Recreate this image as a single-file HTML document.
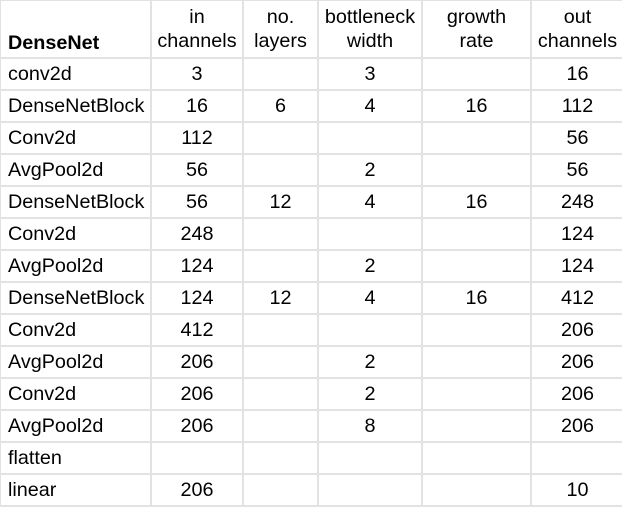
<!DOCTYPE html>
<html><head><meta charset="utf-8"><style>
body{margin:0;background:#fff;}
table{border-collapse:collapse;position:absolute;left:-1px;top:-1px;width:624px;font-family:"Liberation Sans",Arial,sans-serif;font-size:19.8px;color:#000;table-layout:fixed;}
td{border:2px solid #e2e2e2;padding:0;height:30px;text-align:center;white-space:nowrap;overflow:visible;}
td:first-child{text-align:left;padding-left:7px;}
tr.h td{height:54px;line-height:24px;vertical-align:middle;}
tr.h td:first-child{vertical-align:bottom;font-weight:bold;padding-bottom:2px;}
</style></head><body>
<table>
<colgroup><col style="width:151px"><col style="width:92px"><col style="width:75px"><col style="width:104px"><col style="width:109px"><col style="width:93px"></colgroup>
<tr class="h"><td>DenseNet</td><td>in<br>channels</td><td>no.<br>layers</td><td>bottleneck<br>width</td><td>growth<br>rate</td><td>out<br>channels</td></tr>
<tr><td>conv2d</td><td>3</td><td></td><td>3</td><td></td><td>16</td></tr>
<tr><td>DenseNetBlock</td><td>16</td><td>6</td><td>4</td><td>16</td><td>112</td></tr>
<tr><td>Conv2d</td><td>112</td><td></td><td></td><td></td><td>56</td></tr>
<tr><td>AvgPool2d</td><td>56</td><td></td><td>2</td><td></td><td>56</td></tr>
<tr><td>DenseNetBlock</td><td>56</td><td>12</td><td>4</td><td>16</td><td>248</td></tr>
<tr><td>Conv2d</td><td>248</td><td></td><td></td><td></td><td>124</td></tr>
<tr><td>AvgPool2d</td><td>124</td><td></td><td>2</td><td></td><td>124</td></tr>
<tr><td>DenseNetBlock</td><td>124</td><td>12</td><td>4</td><td>16</td><td>412</td></tr>
<tr><td>Conv2d</td><td>412</td><td></td><td></td><td></td><td>206</td></tr>
<tr><td>AvgPool2d</td><td>206</td><td></td><td>2</td><td></td><td>206</td></tr>
<tr><td>Conv2d</td><td>206</td><td></td><td>2</td><td></td><td>206</td></tr>
<tr><td>AvgPool2d</td><td>206</td><td></td><td>8</td><td></td><td>206</td></tr>
<tr><td>flatten</td><td></td><td></td><td></td><td></td><td></td></tr>
<tr><td>linear</td><td>206</td><td></td><td></td><td></td><td>10</td></tr>
</table>
</body></html>
